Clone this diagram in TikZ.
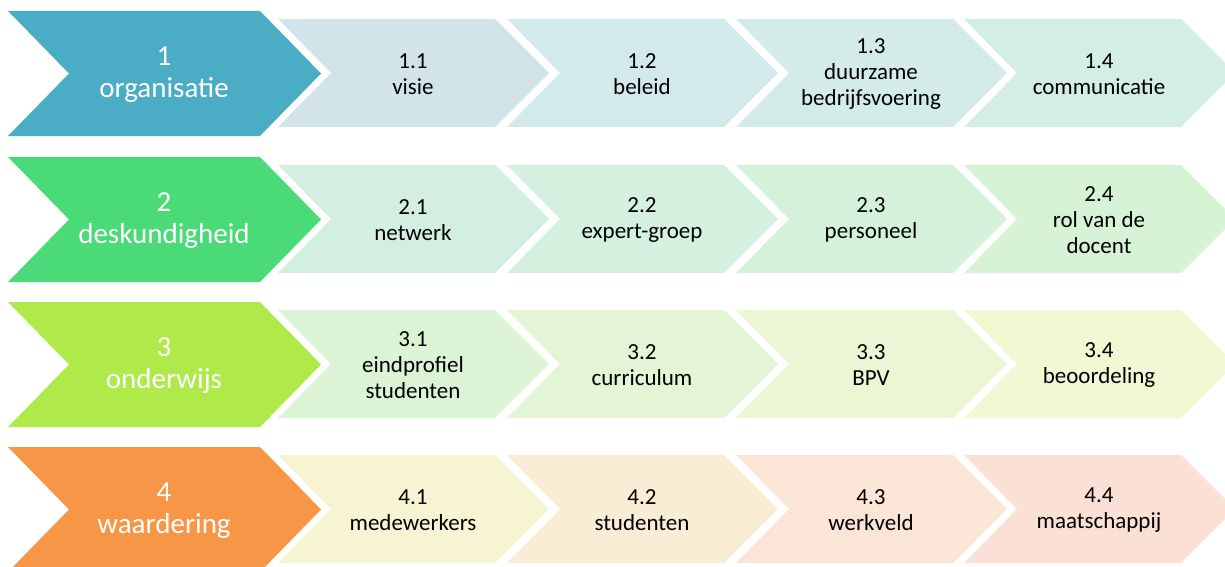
\documentclass[tikz,border=0pt]{standalone}
\usepackage{fontspec}
\setmainfont{Carlito}
\definecolor{m1}{HTML}{4BACC6}
\definecolor{m2}{HTML}{4ADA78}
\definecolor{m3}{HTML}{AFEA4A}
\definecolor{m4}{HTML}{F79646}
\definecolor{s11}{HTML}{D2E4EA}
\definecolor{s12}{HTML}{D3EAEC}
\definecolor{s13}{HTML}{D3ECEA}
\definecolor{s14}{HTML}{D3EEE3}
\definecolor{s21}{HTML}{D3EFE2}
\definecolor{s22}{HTML}{D3F1DE}
\definecolor{s23}{HTML}{D4F2DA}
\definecolor{s24}{HTML}{D6F3D5}
\definecolor{s31}{HTML}{DBF4D5}
\definecolor{s32}{HTML}{E3F5D5}
\definecolor{s33}{HTML}{EAF6D4}
\definecolor{s34}{HTML}{F3F7D4}
\definecolor{s41}{HTML}{F7F4D3}
\definecolor{s42}{HTML}{F9EDD6}
\definecolor{s43}{HTML}{FBE5D6}
\definecolor{s44}{HTML}{FBE0D6}
\tikzset{
  maintext/.style={text=white, align=center, inner sep=0pt,
    font=\fontsize{29}{32}\selectfont},
  subtext/.style={text=black, align=center, inner sep=0pt,
    font=\fontsize{23}{26}\selectfont}
}
% main chevron: #1 name, #2 top y, #3 colour, #4 text
\newcommand\mainchev[4]{%
  \fill[#3] (8,#2) -- (260,#2) -- (321,#2+62.5) -- (260,#2+125) -- (8,#2+125) -- (69,#2+62.5) -- cycle;
  \node[maintext] (#1) at (164,#2+64) {#4};
}
% sub chevron: #1 name, #2 left x, #3 main top y, #4 colour, #5 text
\newcommand\subchev[5]{%
  \fill[#4] (#2,#3+8) -- (#2+217,#3+8) -- (#2+271,#3+62) -- (#2+217,#3+116) -- (#2,#3+116) -- (#2+53,#3+62) -- cycle;
  \node[subtext] (#1) at (#2+135,#3+63) {#5};
}
\begin{document}
\begin{tikzpicture}[x=1pt,y=-1pt]
\useasboundingbox (0,0) rectangle (1225,567);
\clip (0,0) rectangle (1225,567);
% row 1
\mainchev{r1}{11}{m1}{1\\organisatie}
\subchev{r11}{278}{11}{s11}{1.1\\visie}
\subchev{r12}{507}{11}{s12}{1.2\\beleid}
\subchev{r13}{736}{11}{s13}{1.3\\duurzame\\bedrijfsvoering}
\subchev{r14}{964}{11}{s14}{1.4\\communicatie}
% row 2
\mainchev{r2}{157}{m2}{2\\deskundigheid}
\subchev{r21}{278}{157}{s21}{2.1\\netwerk}
\subchev{r22}{507}{157}{s22}{2.2\\expert-groep}
\subchev{r23}{736}{157}{s23}{2.3\\personeel}
\subchev{r24}{964}{157}{s24}{2.4\\rol van de\\docent}
% row 3
\mainchev{r3}{302}{m3}{3\\onderwijs}
\subchev{r31}{278}{302}{s31}{3.1\\eindprofiel\\studenten}
\subchev{r32}{507}{302}{s32}{3.2\\curriculum}
\subchev{r33}{736}{302}{s33}{3.3\\BPV}
\subchev{r34}{964}{302}{s34}{3.4\\beoordeling}
% row 4
\mainchev{r4}{447}{m4}{4\\waardering}
\subchev{r41}{278}{447}{s41}{4.1\\medewerkers}
\subchev{r42}{507}{447}{s42}{4.2\\studenten}
\subchev{r43}{736}{447}{s43}{4.3\\werkveld}
\subchev{r44}{964}{447}{s44}{4.4\\maatschappij}
\end{tikzpicture}
\end{document}
